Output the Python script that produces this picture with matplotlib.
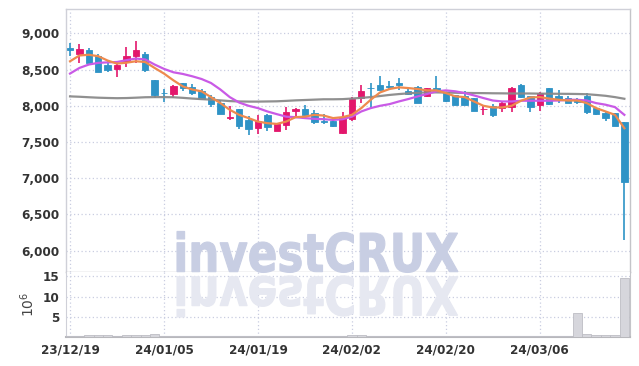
import matplotlib
matplotlib.use("Agg")
import matplotlib.pyplot as plt
import numpy as np
from matplotlib.textpath import TextPath
from matplotlib.patches import PathPatch, Rectangle
from matplotlib.font_manager import FontProperties
from matplotlib.transforms import Affine2D

dates = ["23/12/19", "24/01/05", "24/01/19", "24/02/02", "24/02/20", "24/03/06"]
date_idx = [0, 10, 20, 30, 40, 50]

opens = [8805, 8720, 8765, 8685, 8570, 8515, 8600, 8685, 8720, 8360,
         8180, 8165, 8315, 8260, 8200, 8115, 8035, 7825, 7960, 7805,
         7700, 7875, 7657, 7735, 7930, 7960, 7900, 7785, 7785, 7620,
         7815, 8105, 8250, 8290, 8280, 8320, 8210, 8255, 8130, 8245,
         8185, 8145, 8130, 8107, 7950, 8000, 7975, 7990, 8290, 8130,
         8010, 8245, 8140, 8107, 8090, 8140, 7968, 7907, 7900, 7775]
highs = [8870, 8847, 8800, 8710, 8620, 8610, 8810, 8895, 8745, 8360,
         8235, 8285, 8320, 8295, 8230, 8150, 8080, 8000, 7960, 7860,
         7870, 7880, 7760, 7990, 7965, 8010, 7940, 7890, 7845, 7910,
         8125, 8290, 8315, 8405, 8345, 8390, 8230, 8275, 8250, 8415,
         8195, 8150, 8200, 8110, 8010, 8030, 8070, 8260, 8295, 8135,
         8185, 8250, 8220, 8140, 8110, 8175, 7970, 7910, 7905, 7775]
lows = [8685, 8593, 8590, 8460, 8465, 8400, 8530, 8595, 8465, 8105,
        8050, 8105, 8200, 8150, 8090, 7990, 7885, 7805, 7685, 7600,
        7610, 7650, 7650, 7670, 7845, 7850, 7755, 7750, 7710, 7615,
        7790, 8045, 7955, 8215, 8230, 8225, 8150, 8040, 8125, 8195,
        8055, 8005, 8010, 7930, 7875, 7850, 7910, 7910, 8110, 7910,
        7935, 8015, 8040, 8035, 8030, 7880, 7875, 7790, 7720, 6140]
closes = [8775, 8790, 8595, 8465, 8500, 8570, 8690, 8765, 8490, 8150,
          8170, 8280, 8245, 8180, 8095, 8030, 7890, 7850, 7720, 7675,
          7795, 7705, 7750, 7910, 7960, 7875, 7770, 7775, 7715, 7845,
          8095, 8210, 8240, 8220, 8255, 8290, 8160, 8045, 8245, 8200,
          8060, 8015, 8015, 7935, 7960, 7875, 8045, 8245, 8115, 7990,
          8170, 8020, 8085, 8037, 8050, 7920, 7890, 7837, 7727, 6950]
volumes = [0.35, 0.35, 0.4, 0.4, 0.4, 0.2, 0.4, 0.4, 0.4, 0.65,
           0.15, 0.15, 0.15, 0.15, 0.15, 0.15, 0.15, 0.15, 0.15, 0.15,
           0.15, 0.15, 0.15, 0.3, 0.15, 0.15, 0.3, 0.3, 0.15, 0.3,
           0.4, 0.4, 0.15, 0.15, 0.15, 0.15, 0.15, 0.15, 0.15, 0.15,
           0.15, 0.15, 0.15, 0.15, 0.15, 0.15, 0.35, 0.35, 0.15, 0.15,
           0.15, 0.15, 0.15, 0.15, 5.9, 0.7, 0.5, 0.5, 0.5, 14.7]
ma_short = [8615, 8695, 8705, 8685, 8625, 8583, 8595, 8615, 8605, 8523,
            8445, 8352, 8268, 8225, 8200, 8120, 8037, 7945, 7875, 7830,
            7782, 7760, 7750, 7782, 7843, 7850, 7875, 7865, 7830, 7843,
            7875, 7968, 8083, 8185, 8232, 8255, 8245, 8232, 8213, 8213,
            8176, 8130, 8120, 8060, 8000, 7977, 7977, 8000, 8070, 8116,
            8120, 8100, 8083, 8073, 8073, 8037, 7968, 7922, 7875, 7690]
ma_mid = [8445, 8523, 8570, 8593, 8600, 8605, 8630, 8653, 8640, 8570,
          8510, 8463, 8440, 8408, 8370, 8315, 8225, 8120, 8045, 8000,
          7968, 7922, 7885, 7850, 7843, 7830, 7820, 7815, 7805, 7815,
          7850, 7922, 7968, 8000, 8023, 8060, 8093, 8130, 8163, 8200,
          8213, 8200, 8176, 8143, 8107, 8073, 8060, 8060, 8070, 8070,
          8070, 8070, 8073, 8083, 8083, 8073, 8037, 8015, 7982, 7875]
ma_long = [8130, 8125, 8118, 8112, 8108, 8105, 8107, 8112, 8118, 8120,
           8120, 8118, 8110, 8100, 8092, 8085, 8075, 8065, 8060, 8058,
           8058, 8060, 8062, 8068, 8075, 8080, 8085, 8090, 8090, 8092,
           8100, 8110, 8120, 8135, 8150, 8162, 8172, 8180, 8185, 8185,
           8183, 8180, 8178, 8176, 8175, 8173, 8172, 8170, 8170, 8170,
           8168, 8167, 8166, 8165, 8163, 8160, 8150, 8138, 8120, 8097]
price_ticks = [6000, 6500, 7000, 7500, 8000, 8500, 9000]
vol_ticks = [5, 10, 15]

W, H = 639, 366
fig = plt.figure(figsize=(W / 100, H / 100), dpi=100)
fig.patch.set_facecolor("white")

def fx(px):
    return px / W

def fy(py):
    return 1 - py / H

ax = fig.add_axes([fx(66), fy(272.3), fx(630) - fx(66), fy(9.3) - fy(272.3)])
axv = fig.add_axes([fx(66), fy(337), fx(630) - fx(66), fy(272.3) - fy(337)], sharex=ax)

UP = "#e3176c"
DOWN = "#2e93c6"
tick_font = dict(family=["DejaVu Sans"], stretch="condensed", weight="bold", size=9.6)
grid_kw = dict(color="#c9cde0", linestyle=(0, (1, 2)), linewidth=0.9)

x = np.arange(len(opens))
for i in x:
    o, h, l, c = opens[i], highs[i], lows[i], closes[i]
    col = UP if c > o else DOWN
    ax.vlines(i, l, h, color=col, linewidth=1.2, zorder=3)
    bottom = min(o, c)
    height = max(abs(c - o), 12)
    ax.add_patch(Rectangle((i - 0.34, bottom), 0.68, height, facecolor=col,
                           edgecolor=col, linewidth=0.6, zorder=4))

ax.plot(x, ma_long, color="#8a8a8a", linewidth=1.6, zorder=5, alpha=0.95)
ax.plot(x, ma_mid, color="#c95ae6", linewidth=1.6, zorder=5)
ax.plot(x, ma_short, color="#ee8a4e", linewidth=1.6, zorder=6)

ax.set_xlim(-0.43, 59.6)
ax.set_ylim(5700, 9333)
ax.set_yticks(price_ticks)
ax.set_yticklabels([f"{v:,}" for v in price_ticks], fontdict=tick_font, color="#333333")
ax.set_xticks(date_idx)
ax.tick_params(axis="x", labelbottom=False, length=0)
ax.tick_params(axis="y", length=0, pad=5)
ax.grid(True, **grid_kw)
ax.set_axisbelow(True)
for s in ["top", "left"]:
    ax.spines[s].set_color("#cfd0d8")
ax.spines["right"].set_color("#c4c4c8")
ax.spines["bottom"].set_color("#c4c4c8")
for sp in ax.spines.values():
    sp.set_linewidth(1.0)

axv.bar(x, volumes, width=1.0, color="#d6d6dc", edgecolor="#bdbdc4", linewidth=0.6, zorder=3)
axv.set_ylim(0, 16)
axv.set_yticks(vol_ticks)
axv.set_yticklabels([str(v) for v in vol_ticks], fontdict=tick_font, color="#333333")
axv.set_xticks(date_idx)
axv.set_xticklabels(dates, fontdict=tick_font, color="#333333")
axv.tick_params(axis="both", length=0)
axv.tick_params(axis="y", pad=5)
axv.tick_params(axis="x", pad=5)
axv.grid(True, **grid_kw)
axv.set_axisbelow(True)
axv.spines["top"].set_visible(False)
axv.spines["left"].set_color("#cfd0d8")
axv.spines["right"].set_color("#c4c4c8")
axv.spines["bottom"].set_color("#b8b8bc")
axv.spines["bottom"].set_linewidth(1.5)
axv.set_ylabel("$10^6$", fontsize=10, color="#444444", labelpad=4)

# watermark with reflection
fp = FontProperties(family=["DejaVu Sans"], weight="bold")
tp = TextPath((0, 0), "investCRUX", size=53, prop=fp)
ext = tp.get_extents()
sx = 281 / ext.width
base = H - 271.7
to_fig = Affine2D().scale(1 / W, 1 / H) + fig.transFigure
t1 = Affine2D().translate(-ext.x0, 0).scale(sx, 1).translate(177, base) + to_fig
fig.add_artist(PathPatch(tp, facecolor="#c8cee3", edgecolor="#c8cee3", linewidth=0.8,
                         transform=t1, zorder=7))
t2 = Affine2D().translate(-ext.x0, 0).scale(sx, -1).translate(177, base - 5) + to_fig
fig.add_artist(PathPatch(tp, facecolor="#e6e8f1", edgecolor="#e6e8f1", linewidth=0.8,
                         transform=t2, zorder=7))

fig.savefig("out.png", dpi=100)
